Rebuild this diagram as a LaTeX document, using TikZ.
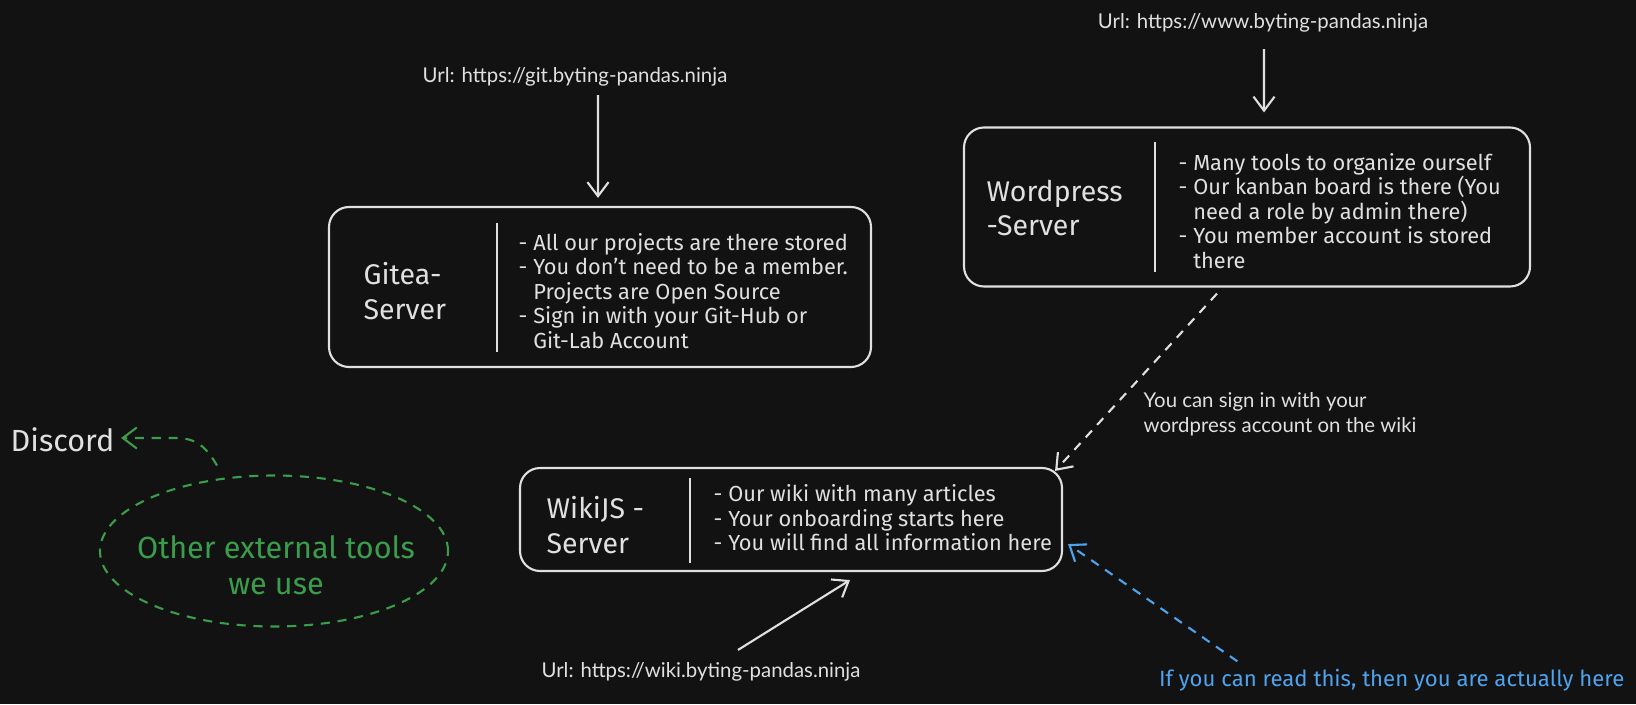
\documentclass[tikz,border=0pt]{standalone}
\usepackage{fontspec}
\setmainfont{Fira Sans}
\newfontfamily\urlfont{Lato}
\usetikzlibrary{arrows.meta,shapes.geometric}
\definecolor{bg}{HTML}{121212}
\definecolor{ink}{HTML}{E0E0E0}
\definecolor{grn}{HTML}{3A9D4B}
\definecolor{blu}{HTML}{4EA3EE}

\begin{document}
\begin{tikzpicture}[x=0.1mm,y=-0.1mm]
	\tikzset{
		box/.style={draw=ink, line width=0.6pt, rounded corners=2mm, inner sep=0pt},
		divider/.style={draw=ink, line width=0.6pt},
		title/.style={text=ink, font=\fontsize{8.1pt}{9.9pt}\selectfont, align=left, anchor=west, inner sep=0pt},
		bullets/.style={text=ink, font=\fontsize{6.2pt}{6.95pt}\selectfont, align=left, anchor=west, inner sep=0pt},
		urltext/.style={text=ink, font=\urlfont\fontsize{5.8pt}{7pt}\selectfont, inner sep=0pt},
		arr/.style={draw=ink, line width=0.6pt, -{Straight Barb[length=4pt,width=6pt]}},
		dasharr/.style={arr, dash pattern=on 2.6pt off 2.2pt},
	}
	
	\fill[bg] (0,0) rectangle (1636,704);
	\useasboundingbox (0,0) rectangle (1636,704);
	
	% Gitea
	\node[box, minimum width=54.2mm, minimum height=16mm] (gitea) at (600,287) {};
	\draw[divider] (497,223) -- (497,352);
	\node[title] (giteatitle) at (363,291) {Gitea-\\Server};
	\node[bullets] (giteatext) at (518,291) {- All our projects are there stored\\- You don't need to be a member.\\\hphantom{- }Projects are Open Source\\- Sign in with your Git-Hub or\\\hphantom{- }Git-Lab Account};
	\node[urltext] (urlgit) at (575,77) {Url: https://git.byting-pandas.ninja};
	\draw[arr] ([xshift=2.3mm,yshift=-0.8mm]urlgit.south) -- ([xshift=-0.2mm,yshift=0.8mm]gitea.north);
	
	% Wordpress
	\node[box, minimum width=56.6mm, minimum height=15.9mm] (wp) at (1247,207) {};
	\draw[divider] (1155,142) -- (1155,272);
	\node[title] (wptitle) at (986,208) {Wordpress\\-Server};
	\node[bullets] (wptext) at (1178,211) {- Many tools to organize ourself\\- Our kanban board is there (You\\\hphantom{- }need a role by admin there)\\- You member account is stored\\\hphantom{- }there};
	\node[urltext] (urlwp) at (1263,23) {Url: https://www.byting-pandas.ninja};
	\draw[arr] ([xshift=0.1mm,yshift=-1.6mm]urlwp.south) -- ([xshift=1.7mm,yshift=1.4mm]wp.north);
	
	% WikiJS
	\node[box, minimum width=54.2mm, minimum height=10.3mm] (wiki) at (791,519.5) {};
	\draw[divider] (690,478) -- (690,563);
	\node[title] (wikititle) at (546,525) {WikiJS -\\Server};
	\node[bullets] (wikitext) at (713,518) {- Our wiki with many articles\\- Your onboarding starts here\\- You will find all information here};
	\node[urltext] (urlwiki) at (701,672) {Url: https://wiki.byting-pandas.ninja};
	\draw[arr] ([xshift=3.7mm,yshift=1.2mm]urlwiki.north) -- ([xshift=5.9mm,yshift=-0.8mm]wiki.south);
	
	% login
	\draw[dasharr] ([xshift=-3mm,yshift=-0.6mm]wp.south) -- ([xshift=-0.8mm,yshift=-0.4mm]wiki.north east);
	\node[urltext, align=left, anchor=west, font=\urlfont\fontsize{5.8pt}{7.1pt}\selectfont] (logintext) at (1143,414) {You can sign in with your\\wordpress account on the wiki};
	
	% you are here
	\node[text=blu, font=\fontsize{6.3pt}{7pt}\selectfont, anchor=east, inner sep=0pt] (heretext) at (1625,680) {If you can read this, then you are actually here};
	\draw[dasharr, draw=blu] ([xshift=7.9mm,yshift=0.7mm]heretext.north west) -- ([xshift=0.5mm,yshift=2.8mm]wiki.south east);
	
	% external tools
	\node[ellipse, draw=grn, line width=0.6pt, dash pattern=on 2.6pt off 2.2pt, minimum width=34.8mm, minimum height=15.1mm] (ext) at (274,551) {};
	\node[text=grn, font=\fontsize{8.7pt}{10.2pt}\selectfont, align=center, inner sep=0pt] (exttext) at (276,565) {Other external tools\\we use};
	\node[text=ink, font=\fontsize{8.7pt}{9pt}\selectfont, anchor=west, inner sep=0pt] (discord) at (10,440) {Discord};
	\draw[dasharr, draw=grn] ([xshift=-5.7mm,yshift=0.9mm]ext.north) .. controls (205,445) and (195,438) .. (175,438) -- ([xshift=0.6mm,yshift=0.2mm]discord.east);
	
\end{tikzpicture}
\end{document}
